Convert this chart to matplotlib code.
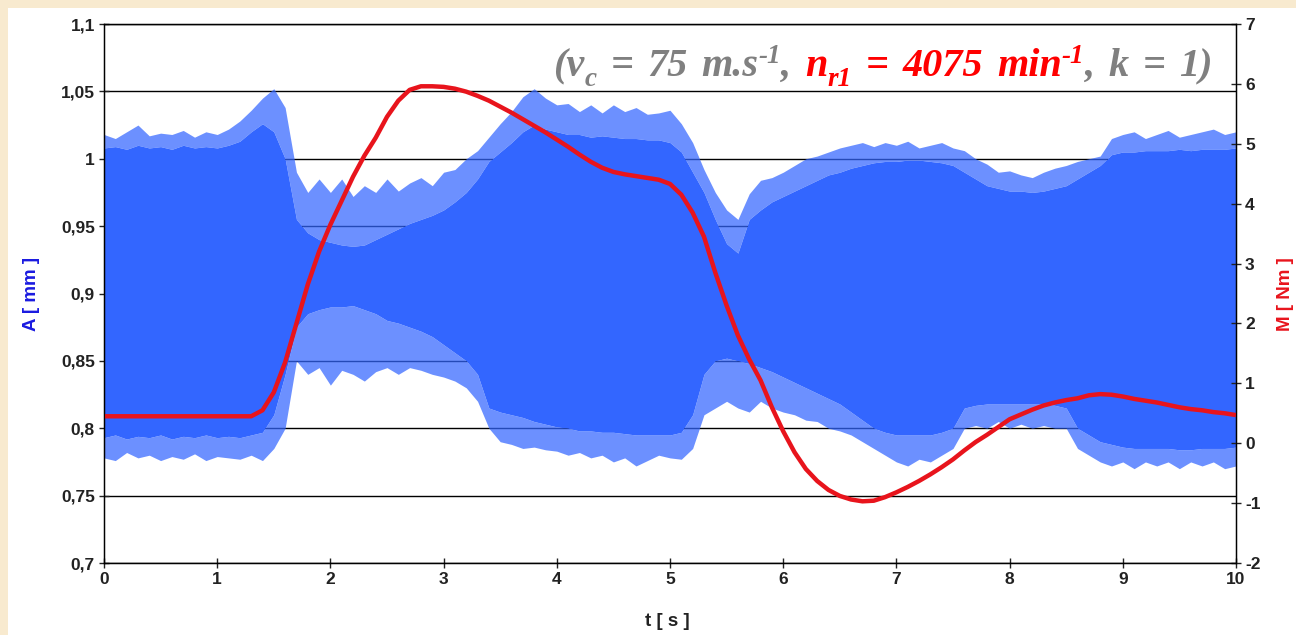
import numpy as np
import matplotlib
matplotlib.use("Agg")
import matplotlib.pyplot as plt
from matplotlib.patches import Rectangle

# ── data (0.1 s grid) ───────────────────────────────────────────────────────
t_s = np.round(np.arange(101) * 0.1, 1)

# blue signal A [mm]: outer spike envelope and solid body envelope
a_top_peak = [1.018, 1.015, 1.020, 1.025, 1.017, 1.019, 1.018, 1.021, 1.016, 1.020,
              1.018, 1.022, 1.028, 1.036, 1.045, 1.052, 1.038, 0.990, 0.975, 0.985,
              0.975, 0.985, 0.972, 0.980, 0.975, 0.985, 0.976, 0.982, 0.986, 0.980,
              0.990, 0.992, 1.000, 1.006, 1.016, 1.026, 1.035, 1.046, 1.052, 1.045,
              1.040, 1.041, 1.035, 1.040, 1.034, 1.040, 1.035, 1.038, 1.033, 1.034,
              1.036, 1.026, 1.012, 0.992, 0.975, 0.962, 0.955, 0.974, 0.984, 0.986,
              0.990, 0.995, 1.000, 1.002, 1.005, 1.008, 1.010, 1.012, 1.009, 1.012,
              1.010, 1.013, 1.008, 1.010, 1.012, 1.008, 1.006, 1.000, 0.996, 0.990,
              0.991, 0.988, 0.986, 0.990, 0.993, 0.995, 0.998, 1.000, 1.002, 1.015,
              1.018, 1.020, 1.015, 1.018, 1.021, 1.016, 1.018, 1.020, 1.022, 1.018,
              1.020]
a_top_body = [1.008, 1.009, 1.007, 1.010, 1.008, 1.009, 1.007, 1.010, 1.008, 1.009,
              1.008, 1.010, 1.013, 1.020, 1.026, 1.020, 1.000, 0.955, 0.945, 0.940,
              0.938, 0.936, 0.935, 0.936, 0.940, 0.944, 0.948, 0.952, 0.955, 0.958,
              0.962, 0.968, 0.975, 0.985, 0.998, 1.005, 1.012, 1.020, 1.025, 1.022,
              1.020, 1.018, 1.018, 1.016, 1.017, 1.016, 1.015, 1.015, 1.014, 1.014,
              1.012, 1.005, 0.990, 0.975, 0.955, 0.937, 0.930, 0.955, 0.962, 0.968,
              0.972, 0.976, 0.980, 0.984, 0.988, 0.990, 0.993, 0.995, 0.997, 0.998,
              0.998, 0.999, 0.999, 0.998, 0.997, 0.995, 0.990, 0.985, 0.980, 0.978,
              0.976, 0.976, 0.975, 0.976, 0.978, 0.980, 0.985, 0.990, 0.995, 1.003,
              1.005, 1.005, 1.006, 1.006, 1.006, 1.007, 1.006, 1.007, 1.007, 1.007,
              1.008]
a_bot_body = [0.793, 0.795, 0.792, 0.794, 0.793, 0.795, 0.792, 0.794, 0.793, 0.795,
              0.793, 0.794, 0.793, 0.795, 0.797, 0.810, 0.840, 0.875, 0.885, 0.888,
              0.890, 0.890, 0.891, 0.888, 0.885, 0.880, 0.878, 0.875, 0.872, 0.868,
              0.862, 0.856, 0.850, 0.840, 0.815, 0.812, 0.810, 0.808, 0.805, 0.803,
              0.801, 0.800, 0.798, 0.798, 0.797, 0.797, 0.796, 0.795, 0.795, 0.795,
              0.795, 0.797, 0.810, 0.840, 0.850, 0.852, 0.850, 0.848, 0.845, 0.842,
              0.838, 0.834, 0.830, 0.826, 0.822, 0.818, 0.812, 0.806, 0.800, 0.797,
              0.795, 0.795, 0.795, 0.795, 0.797, 0.800, 0.815, 0.817, 0.818, 0.818,
              0.818, 0.818, 0.818, 0.818, 0.817, 0.815, 0.800, 0.795, 0.790, 0.788,
              0.786, 0.785, 0.785, 0.785, 0.785, 0.784, 0.784, 0.785, 0.785, 0.785,
              0.786]
a_bot_peak = [0.778, 0.776, 0.782, 0.778, 0.780, 0.776, 0.779, 0.777, 0.781, 0.776,
              0.779, 0.778, 0.777, 0.780, 0.776, 0.785, 0.800, 0.850, 0.840, 0.845,
              0.832, 0.843, 0.840, 0.835, 0.842, 0.845, 0.840, 0.845, 0.843, 0.840,
              0.838, 0.835, 0.830, 0.820, 0.800, 0.790, 0.788, 0.785, 0.786, 0.784,
              0.783, 0.780, 0.782, 0.778, 0.780, 0.775, 0.778, 0.772, 0.776, 0.780,
              0.778, 0.777, 0.785, 0.810, 0.815, 0.820, 0.815, 0.812, 0.820, 0.815,
              0.812, 0.810, 0.806, 0.805, 0.800, 0.798, 0.795, 0.790, 0.785, 0.780,
              0.775, 0.772, 0.777, 0.775, 0.780, 0.785, 0.800, 0.802, 0.800, 0.805,
              0.800, 0.803, 0.800, 0.802, 0.800, 0.800, 0.785, 0.780, 0.775, 0.772,
              0.775, 0.770, 0.775, 0.772, 0.775, 0.770, 0.775, 0.772, 0.775, 0.770,
              0.772]

# red torque M [Nm]
m_nm = [0.45, 0.45, 0.45, 0.45, 0.45, 0.45, 0.45, 0.45, 0.45, 0.45,
        0.45, 0.45, 0.45, 0.45, 0.55, 0.85, 1.35, 2.00, 2.65, 3.20,
        3.65, 4.05, 4.45, 4.80, 5.10, 5.45, 5.72, 5.90, 5.96, 5.96,
        5.95, 5.92, 5.87, 5.80, 5.72, 5.62, 5.52, 5.41, 5.30, 5.19,
        5.07, 4.95, 4.82, 4.70, 4.60, 4.53, 4.49, 4.46, 4.43, 4.40,
        4.33, 4.15, 3.85, 3.45, 2.85, 2.30, 1.80, 1.40, 1.05, 0.60,
        0.20, -0.15, -0.43, -0.63, -0.78, -0.88, -0.94, -0.97, -0.96, -0.90,
        -0.82, -0.73, -0.63, -0.52, -0.40, -0.27, -0.12, 0.02, 0.14, 0.27,
        0.40, 0.48, 0.56, 0.63, 0.68, 0.72, 0.75, 0.80, 0.82, 0.81,
        0.78, 0.74, 0.71, 0.68, 0.64, 0.60, 0.57, 0.55, 0.52, 0.50,
        0.47]

a_ticks = [0.7, 0.75, 0.8, 0.85, 0.9, 0.95, 1.0, 1.05, 1.1]
a_labels = ["0,7", "0,75", "0,8", "0,85", "0,9", "0,95", "1", "1,05", "1,1"]
m_ticks = [-2, -1, 0, 1, 2, 3, 4, 5, 6, 7]
t_ticks = list(range(11))

# ── figure ──────────────────────────────────────────────────────────────────
W, H = 1296, 635
plt.rcParams["font.family"] = ["Liberation Sans", "DejaVu Sans"]
plt.rcParams["font.weight"] = "bold"
plt.rcParams["axes.unicode_minus"] = False

fig = plt.figure(figsize=(W / 100, H / 100), dpi=100)
fig.patch.set_facecolor("#f8eacf")
fig.add_artist(Rectangle((8 / W, 0), 1, 1 - 8 / H, transform=fig.transFigure,
                         fc="white", ec="none", zorder=0))

ax = fig.add_axes([104 / W, 72 / H, 1132 / W, 539 / H])
ax.set_facecolor("white")
ax.set_xlim(0, 10)
ax.set_ylim(0.7, 1.1)
ax.set_axisbelow(True)
ax.yaxis.grid(True, color="black", lw=1.0)

BLUE = "#3366ff"
ax.fill_between(t_s, a_bot_body, a_top_body, color=BLUE, lw=0, zorder=2)
# spiky fringe: lighter band up to the outer envelope
ax.fill_between(t_s, a_top_body, a_top_peak, color=BLUE, alpha=0.72, lw=0, zorder=2)
ax.fill_between(t_s, a_bot_peak, a_bot_body, color=BLUE, alpha=0.72, lw=0, zorder=2)

ax.set_xticks(t_ticks)
ax.set_yticks(a_ticks)
ax.set_yticklabels(a_labels)
ax.tick_params(direction="inout", length=7, width=1, labelsize=12.5,
               colors="#222222", pad=3)
for s in ax.spines.values():
    s.set_color("black")
    s.set_linewidth(1.0)

ax2 = ax.twinx()
ax2.set_ylim(-2, 7)
ax2.set_yticks(m_ticks)
ax2.plot(t_s, m_nm, color="#e8141c", lw=3.2, solid_capstyle="butt")
ax2.tick_params(direction="inout", length=7, width=1, labelsize=12.5,
                colors="#222222", pad=3)

fig.text(31 / W, 1 - 294 / H, "A [ mm ]", rotation=90, color="#1a1ae0",
         fontsize=13.5, ha="center", va="center")
fig.text(1286 / W, 1 - 294 / H, "M [ Nm ]", rotation=90, color="#e8141c",
         fontsize=13.5, ha="center", va="center")
fig.text(667 / W, 1 - 621 / H, "t [ s ]", color="#222222",
         fontsize=13.5, ha="center", va="center")

# ── header text, pieces laid out left to right ──────────────────────────────
GRAY, RED = "#808080", "#ff0000"
pieces = [("(v", GRAY, 0), ("c", GRAY, -1), (" = 75 m.s", GRAY, 0), ("-1", GRAY, 1),
          (", ", GRAY, 0), ("n", RED, 0), ("r1", RED, -1), (" = 4075 min", RED, 0),
          ("-1", RED, 1), (", k = 1)", GRAY, 0)]
fig.canvas.draw()
rend = fig.canvas.get_renderer()
x_px, base_px = 553, H - 76
space_px = 14
for txt, col, pos in pieces:
    size = 29 if pos == 0 else 19.5
    dy = {0: 0, -1: -10, 1: 13}[pos]
    for j, word in enumerate(txt.split(" ")):
        if j > 0:
            x_px += space_px
        if not word:
            continue
        tt = fig.text(x_px / W, (base_px + dy) / H, word, color=col, fontsize=size,
                      family="Liberation Serif", weight="bold", style="italic",
                      va="baseline", ha="left")
        x_px += tt.get_window_extent(rend).width

fig.savefig("out.png", dpi=100, facecolor=fig.get_facecolor())
